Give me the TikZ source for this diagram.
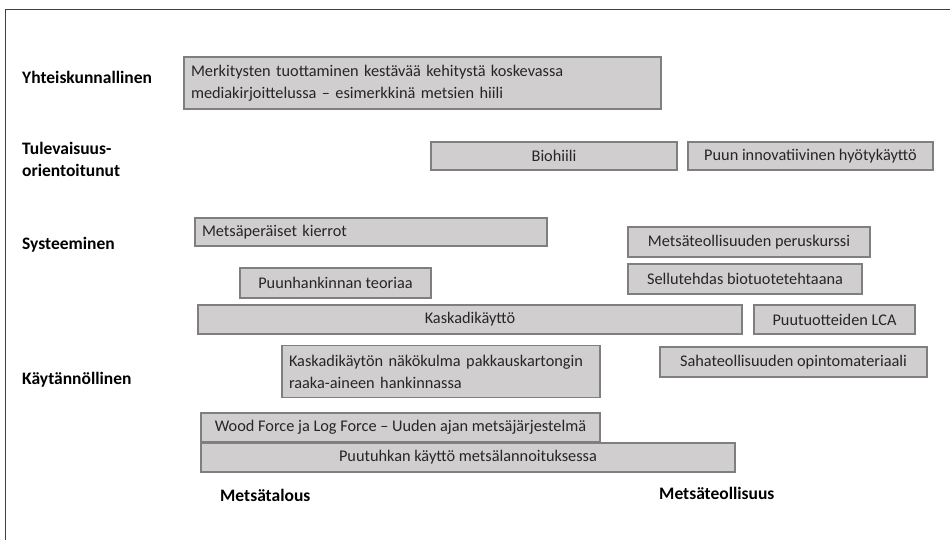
\documentclass[tikz,border=0pt]{standalone}
\usepackage{fontspec}
\setmainfont{Carlito}
\definecolor{boxfill}{HTML}{D0CECE}
\definecolor{boxline}{HTML}{7F7F7F}
\definecolor{frameline}{HTML}{404040}
\begin{document}
\begin{tikzpicture}[x=1pt,y=-1pt,
  box/.style={draw=boxline, fill=boxfill, line width=1.3pt, inner xsep=2pt, inner ysep=0pt,
    font=\fontsize{16.3}{22}\selectfont, text=black!85},
  leftbox/.style={box, inner xsep=7pt, align=left},
  lbl/.style={font=\fontsize{17.5}{22}\selectfont\bfseries, anchor=west, inner sep=0pt, align=left}]
\useasboundingbox (0,0) rectangle (950,540);
\draw[frameline, line width=1pt] (5,540) -- (5,10) -- (950,10);
% row labels
\node[lbl] (l1) at (22,77) {Yhteiskunnallinen};
\node[lbl] (l2) at (22,159) {Tulevaisuus-\\orientoitunut};
\node[lbl] (l3) at (22,245) {Systeeminen};
\node[lbl] (l4) at (22,380) {Käytännöllinen};
\node[lbl] (a1) at (220,495) {Metsätalous};
\node[lbl] (a2) at (659,493) {Metsäteollisuus};
% boxes
\node[leftbox, minimum width=477pt, minimum height=52pt, text width=463pt] (b1) at (422.5,83)
  {Merkitysten tuottaminen kestävää kehitystä koskevassa\\mediakirjoittelussa – esimerkkinä metsien hiili};
\node[box, minimum width=246pt, minimum height=28pt] (b2) at (554,156) {Biohiili};
\node[box, minimum width=245pt, minimum height=28pt] (b3) at (810.5,156) {Puun innovatiivinen hyötykäyttö};
\node[leftbox, minimum width=352pt, minimum height=28pt, text width=338pt] (b4) at (371,232) {Metsäperäiset kierrot};
\node[box, minimum width=242pt, minimum height=30pt] (b5) at (749,242) {Metsäteollisuuden peruskurssi};
\node[box, minimum width=234pt, minimum height=30pt] (b6) at (745,279) {Sellutehdas biotuotetehtaana};
\node[box, minimum width=191pt, minimum height=30pt] (b7) at (335.5,283) {Puunhankinnan teoriaa};
\node[box, minimum width=544pt, minimum height=29pt] (b8) at (470,319.5) {Kaskadikäyttö};
\node[box, minimum width=161pt, minimum height=29pt] (b9) at (834.5,319.5) {Puutuotteiden LCA};
\node[leftbox, minimum width=318pt, minimum height=52pt, text width=304pt] (b10) at (441,371.5)
  {Kaskadikäytön näkökulma pakkauskartongin\\raaka-aineen hankinnassa};
\node[box, minimum width=267pt, minimum height=30pt] (b11) at (793.5,362) {Sahateollisuuden opintomateriaali};
\node[box, minimum width=399pt, minimum height=29pt] (b12) at (400.5,427.5) {Wood Force ja Log Force – Uuden ajan metsäjärjestelmä};
\node[box, minimum width=534pt, minimum height=29pt] (b13) at (468,457.5) {Puutuhkan käyttö metsälannoituksessa};
\end{tikzpicture}
\end{document}
